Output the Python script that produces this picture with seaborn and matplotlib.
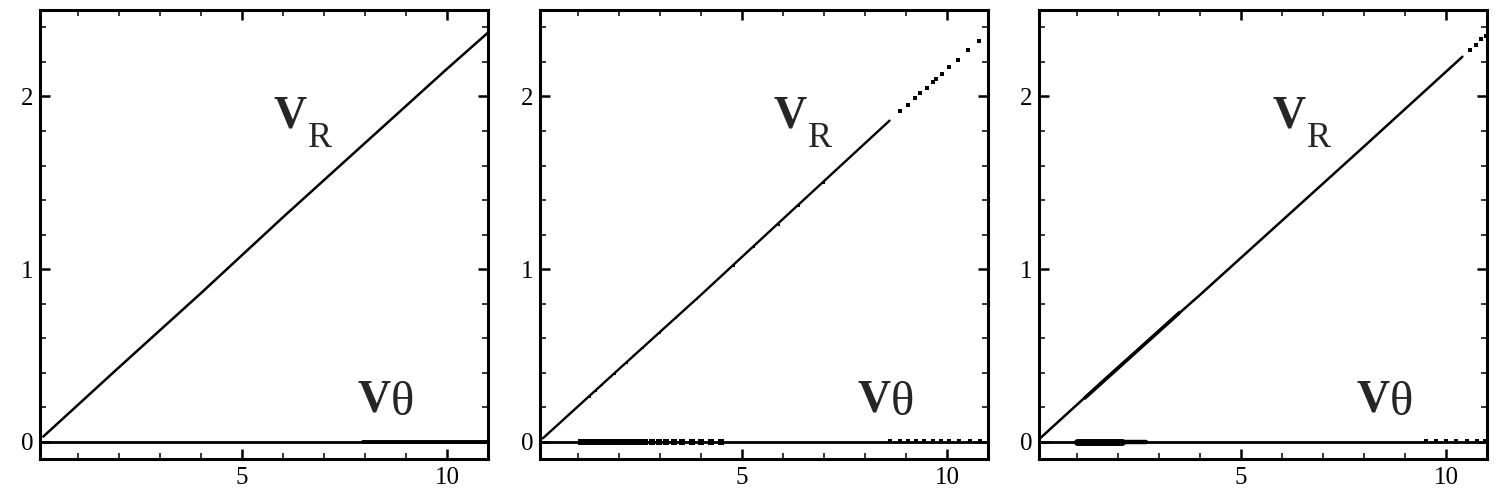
import matplotlib
matplotlib.use("Agg")
import matplotlib.pyplot as plt
import seaborn as sns
from matplotlib.ticker import MultipleLocator

# values
x_lim = (0.08, 11.0)
y_lim = (-0.1, 2.5)

# panel 1
p1_vr_x = [0.16, 2.0, 4.0, 6.0, 8.0, 10.0, 11.0]
p1_vr_y = [0.03, 0.43, 0.86, 1.30, 1.73, 2.16, 2.37]
p1_vt_x = [0.08, 11.0]
p1_vt_y = [0.0, 0.0]
p1_vt_thick_x = [7.96, 11.0]
p1_vt_thick_y = [0.0, 0.0]

# panel 2
p2_vr_x = [0.15, 2.0, 4.0, 6.0, 8.6]
p2_vr_y = [0.02, 0.42, 0.85, 1.29, 1.86]
p2_vr_dots_x = [8.86, 9.05, 9.23, 9.35, 9.51, 9.66, 9.74, 9.88, 10.04, 10.26, 10.51, 10.77]
p2_vr_dots_y = [1.915, 1.95, 1.99, 2.02, 2.05, 2.085, 2.10, 2.13, 2.17, 2.21, 2.27, 2.32]
p2_vr_rough_x = [1.3, 1.45, 1.6, 1.9, 2.2, 2.6, 3.0, 3.4, 3.9, 4.3, 4.8, 5.3, 5.9, 6.4, 7.0]
p2_vr_rough_y = [0.260, 0.292, 0.326, 0.391, 0.457, 0.543, 0.629, 0.716, 0.824, 0.911,
                 1.019, 1.127, 1.257, 1.366, 1.496]
p2_vt_x = [0.08, 11.0]
p2_vt_y = [0.0, 0.0]
p2_vt_dash_x = [1.08, 1.15, 1.22, 1.3, 1.38, 1.47, 1.56, 1.66, 1.76, 1.87, 1.98, 2.1,
                2.22, 2.35, 2.5, 2.65, 2.8, 2.98, 3.15, 3.35, 3.55, 3.78, 4.0, 4.25, 4.5]
p2_vt_dash_y = [0.0] * 25
p2_vt_dots_x = [8.6, 8.85, 9.05, 9.25, 9.45, 9.65, 9.85, 10.05, 10.3, 10.55, 10.8]
p2_vt_dots_y = [0.002] * 11

# panel 3
p3_vr_x = [0.06, 2.0, 4.0, 6.0, 8.0, 10.4]
p3_vr_y = [0.01, 0.43, 0.85, 1.28, 1.71, 2.23]
p3_vr_thick_x = [1.2, 3.5]
p3_vr_thick_y = [0.254, 0.747]
p3_vr_dots_x = [10.58, 10.72, 10.86, 10.98]
p3_vr_dots_y = [2.27, 2.30, 2.33, 2.35]
p3_vt_x = [0.06, 11.0]
p3_vt_y = [0.0, 0.0]
p3_vt_blob_x = [1.0, 2.1]
p3_vt_blob_y = [0.0, 0.0]
p3_vt_mid_x = [2.1, 2.7]
p3_vt_mid_y = [0.0, 0.0]
p3_vt_dots_x = [9.5, 9.75, 10.0, 10.25, 10.5, 10.75, 10.95]
p3_vt_dots_y = [0.002] * 7

sns.set_theme(style="ticks")
plt.rcParams["font.family"] = ["Liberation Serif", "DejaVu Serif"]

fig = plt.figure(figsize=(15, 5.01), dpi=100)
lefts = [40 / 1500, 540 / 1500, 1039 / 1500]
axes = [fig.add_axes([l, 0.0838, 0.2987, 0.896]) for l in lefts]


def line(ax, x, y, lw=1.8):
    sns.lineplot(x=x, y=y, ax=ax, color="black", lw=lw, estimator=None)


def dots(ax, x, y, s=7):
    sns.scatterplot(x=x, y=y, ax=ax, color="black", marker="s", s=s, linewidth=0)


ax1, ax2, ax3 = axes
line(ax1, p1_vr_x, p1_vr_y)
line(ax1, p1_vt_x, p1_vt_y, lw=2.0)
line(ax1, p1_vt_thick_x, p1_vt_thick_y, lw=2.8)

line(ax2, p2_vr_x, p2_vr_y, lw=1.7)
dots(ax2, p2_vr_rough_x, p2_vr_rough_y, s=4)
dots(ax2, p2_vr_dots_x, p2_vr_dots_y)
line(ax2, p2_vt_x, p2_vt_y, lw=2.0)
dots(ax2, p2_vt_dash_x, p2_vt_dash_y, s=20)
dots(ax2, p2_vt_dots_x, p2_vt_dots_y, s=8)

line(ax3, p3_vr_x, p3_vr_y, lw=1.8)
line(ax3, p3_vr_thick_x, p3_vr_thick_y, lw=2.6)
dots(ax3, p3_vr_dots_x, p3_vr_dots_y)
line(ax3, p3_vt_x, p3_vt_y, lw=2.0)
line(ax3, p3_vt_blob_x, p3_vt_blob_y, lw=5)
line(ax3, p3_vt_mid_x, p3_vt_mid_y, lw=3.2)
dots(ax3, p3_vt_dots_x, p3_vt_dots_y, s=8)

for ax in axes:
    ax.set_xlim(*x_lim)
    ax.set_ylim(*y_lim)
    ax.xaxis.set_major_locator(MultipleLocator(5))
    ax.xaxis.set_minor_locator(MultipleLocator(1))
    ax.yaxis.set_major_locator(MultipleLocator(1))
    ax.yaxis.set_minor_locator(MultipleLocator(0.2))
    ax.tick_params(which="both", direction="in", top=True, right=True,
                   colors="black", labelsize=18)
    ax.tick_params(which="major", length=7, width=1.8)
    ax.tick_params(which="minor", length=4, width=1.1)
    ax.tick_params(axis="x", pad=6)
    ax.tick_params(axis="y", pad=5)
    for sp in ax.spines.values():
        sp.set_linewidth(2.2)
        sp.set_color("black")
    ax.set_xlabel("")
    ax.set_ylabel("")
    ax.text(5.76, 1.82, "V", fontsize=33, fontweight="bold", ha="left", va="baseline")
    ax.text(6.62, 1.71, "R", fontsize=26, ha="left", va="baseline")
    ax.text(7.81, 0.174, "V", fontsize=33, fontweight="bold", ha="left", va="baseline")
    ax.text(8.62, 0.155, "θ", fontsize=35, ha="left", va="baseline")

fig.savefig("out.png", dpi=100)
